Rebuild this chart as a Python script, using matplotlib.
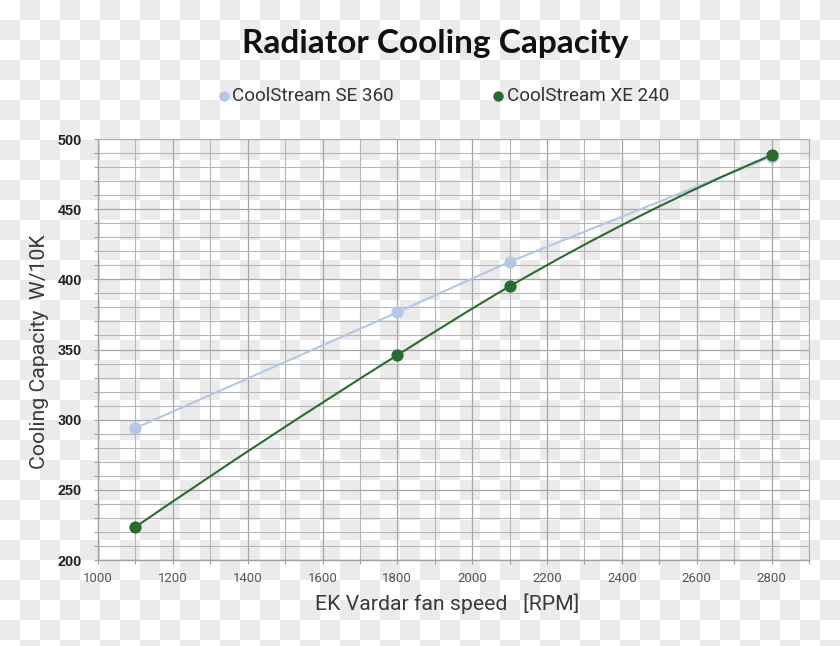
import numpy as np
import matplotlib
matplotlib.use("Agg")
import matplotlib.pyplot as plt
from matplotlib.path import Path
from matplotlib.patches import PathPatch
from matplotlib.ticker import MultipleLocator

# ---- data ----
fan_speed = [1100, 1800, 2100, 2800]
se360 = [294, 376.5, 412.5, 487.5]
xe240 = [223.5, 346, 395, 488.5]
series_names = ["CoolStream SE 360", "CoolStream XE 240"]
x_ticks = [1000, 1200, 1400, 1600, 1800, 2000, 2200, 2400, 2600, 2800]
y_ticks = [200, 250, 300, 350, 400, 450, 500]

SE_COLOR = "#b4c8e4"
XE_COLOR = "#2c6a2f"

W, H = 840, 646
fig = plt.figure(figsize=(W / 100, H / 100), dpi=100)
fig.patch.set_facecolor("white")

# checkerboard background (transparent-look), in a background axes
yy, xx = np.mgrid[0:H, 0:W]
chk = ((xx // 20 + yy // 20) % 2).astype(float)
img = np.ones((H, W, 3))
img[chk == 1] = np.array([235, 235, 235]) / 255.0
bg = fig.add_axes([0, 0, 1, 1], zorder=-5)
bg.imshow(img, origin="upper", aspect="auto", interpolation="nearest",
          extent=(0, W, H, 0))
bg.set_axis_off()

ax = fig.add_axes([98 / W, 1 - 560 / H, (809 - 98) / W, (560 - 139) / H], zorder=1)
ax.patch.set_alpha(0)
ax.set_xlim(1000, 2900)
ax.set_ylim(200, 500)

ax.xaxis.set_major_locator(MultipleLocator(200))
ax.xaxis.set_minor_locator(MultipleLocator(100))
ax.yaxis.set_major_locator(MultipleLocator(50))
ax.yaxis.set_minor_locator(MultipleLocator(10))
ax.set_xticks(x_ticks)
ax.set_yticks(y_ticks)

ax.grid(which="major", color="#a6a6a6", lw=0.9)
ax.grid(which="minor", color="#b6b6b6", lw=0.8)
ax.set_axisbelow(True)
for s in ["top", "right"]:
    ax.spines[s].set_color("#b0b0b0")
    ax.spines[s].set_linewidth(0.8)
for s in ["left", "bottom"]:
    ax.spines[s].set_color("#a0a0a0")
    ax.spines[s].set_linewidth(1.0)

ax.tick_params(axis="both", which="both", direction="out", length=3, color="#a0a0a0", width=0.8)
ax.tick_params(axis="y", which="major", labelsize=10.4, labelcolor="#222222", pad=8.5)
ax.tick_params(axis="x", which="major", labelsize=9.5, labelcolor="#555555", pad=6)
for lab in ax.get_yticklabels():
    lab.set_fontfamily("Liberation Sans")
    lab.set_fontweight("bold")
for lab in ax.get_xticklabels():
    lab.set_fontfamily("Roboto")

# SE 360: straight segments
ax.plot(fan_speed, se360, color=SE_COLOR, lw=1.5, marker="o", ms=8.8,
        markeredgewidth=0, zorder=3)

# XE 240: smooth cubic Hermite curve (as Bezier) through the data points
x = np.asarray(fan_speed, float)
y = np.asarray(xe240, float)
h = np.diff(x)
d = np.diff(y) / h
m = np.zeros_like(y)
for i in range(1, len(x) - 1):
    m[i] = (d[i - 1] * h[i] + d[i] * h[i - 1]) / (h[i - 1] + h[i])
m[0] = 2 * d[0] - m[1]
m[-1] = 2 * d[-1] - m[-2]
verts = [(x[0], y[0])]
codes = [Path.MOVETO]
for i in range(len(x) - 1):
    verts += [(x[i] + h[i] / 3, y[i] + m[i] * h[i] / 3),
              (x[i + 1] - h[i] / 3, y[i + 1] - m[i + 1] * h[i] / 3),
              (x[i + 1], y[i + 1])]
    codes += [Path.CURVE4] * 3
ax.add_patch(PathPatch(Path(verts, codes), fill=False, edgecolor=XE_COLOR, lw=1.5, zorder=4))
ax.plot(fan_speed, xe240, linestyle="none", color=XE_COLOR, marker="o", ms=8.8,
        markeredgewidth=0, zorder=5)

# Title
fig.text(435 / W, 1 - 44 / H, "Radiator Cooling Capacity", ha="center", va="center",
         fontsize=24, fontweight="bold", family="Lato", color="#111111")

# Legend (manual, figure coords)
leg_y = 1 - 96 / H
fig.lines.append(plt.Line2D([224 / W], [leg_y], marker="o", ms=7.5, color=SE_COLOR,
                            markeredgewidth=0, transform=fig.transFigure))
fig.text(232 / W, leg_y, series_names[0], ha="left", va="center", fontsize=13.6,
         family="Roboto", color="#333333")
fig.lines.append(plt.Line2D([498 / W], [leg_y], marker="o", ms=7.5, color=XE_COLOR,
                            markeredgewidth=0, transform=fig.transFigure))
fig.text(507 / W, leg_y, series_names[1], ha="left", va="center", fontsize=13.6,
         family="Roboto", color="#333333")

# Axis labels
fig.text(40 / W, 1 - 352 / H, "Cooling Capacity  W/10K", rotation=90, ha="center",
         va="center", fontsize=15.3, family="Roboto", color="#3a3a3a")
fig.text(447 / W, 1 - 604 / H, "EK Vardar fan speed   [RPM]", ha="center", va="center",
         fontsize=15.3, family="Roboto", color="#3a3a3a")

fig.savefig("out.png", dpi=100)
